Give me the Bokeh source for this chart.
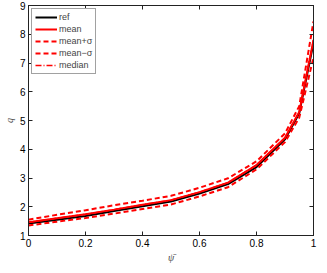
from bokeh.plotting import figure
from bokeh.models import Range1d, LinearAxis, FixedTicker, Legend, LegendItem
from bokeh.embed import file_html
from bokeh.resources import INLINE

psi = [0.0, 0.1, 0.2, 0.3, 0.4, 0.5, 0.6, 0.7, 0.8, 0.9, 0.95, 1.0]
q_ref = [1.42, 1.55, 1.68, 1.85, 2.02, 2.18, 2.46, 2.79, 3.38, 4.35, 5.25, 7.70]
q_mean = [1.46, 1.60, 1.74, 1.90, 2.07, 2.23, 2.51, 2.84, 3.45, 4.40, 5.30, 7.80]
q_plus = [1.55, 1.72, 1.88, 2.05, 2.21, 2.38, 2.66, 2.99, 3.58, 4.55, 5.50, 8.45]
q_minus = [1.35, 1.48, 1.61, 1.76, 1.92, 2.08, 2.36, 2.68, 3.30, 4.25, 5.10, 7.20]
q_median = [1.46, 1.60, 1.74, 1.90, 2.07, 2.23, 2.51, 2.84, 3.45, 4.40, 5.30, 7.80]
x_ticks = [0, 0.2, 0.4, 0.6, 0.8, 1]
y_ticks = [1, 2, 3, 4, 5, 6, 7, 8, 9]

p = figure(width=319, height=265, output_backend="svg", toolbar_location=None,
           x_range=Range1d(0, 1), y_range=Range1d(1, 9),
           min_border_left=16, min_border_right=6, min_border_top=5, min_border_bottom=26)
p.grid.visible = False
p.outline_line_color = "#222222"
p.background_fill_color = "white"
p.border_fill_color = "white"

font = "Liberation Sans"
for ax in [p.xaxis[0], p.yaxis[0]]:
    ax.major_tick_in = 4
    ax.major_tick_out = 0
    ax.minor_tick_in = 0
    ax.minor_tick_out = 0
    ax.axis_line_color = "#222222"
    ax.major_tick_line_color = "#222222"
    ax.major_label_text_font = font
    ax.major_label_text_font_size = "10px"
    ax.major_label_text_color = "black"
    ax.major_label_standoff = 3
    ax.axis_label_text_font = "Liberation Serif"
    ax.axis_label_text_font_style = "italic"
    ax.axis_label_text_font_size = "10px"
    ax.axis_label_standoff = 2
p.xaxis[0].ticker = FixedTicker(ticks=x_ticks)
p.yaxis[0].ticker = FixedTicker(ticks=y_ticks)
p.xaxis[0].major_label_overrides = {0: "0", 1: "1"}
p.xaxis[0].axis_label = "ψ̄"
p.yaxis[0].axis_label = "q"
p.yaxis[0].major_label_orientation = 0

for loc, ticks in [("right", y_ticks), ("above", x_ticks)]:
    ax = LinearAxis(ticker=FixedTicker(ticks=ticks))
    ax.major_tick_in = 4
    ax.major_tick_out = 0
    ax.minor_tick_in = 0
    ax.minor_tick_out = 0
    ax.major_label_overrides = {t: "" for t in ticks}
    ax.major_label_standoff = 0
    ax.axis_line_color = "#222222"
    ax.major_tick_line_color = "#222222"
    p.add_layout(ax, loc)

r_ref = p.line(psi, q_ref, line_color="black", line_width=2)
r_mean = p.line(psi, q_mean, line_color="red", line_width=2)
r_plus = p.line(psi, q_plus, line_color="red", line_width=2, line_dash="5 3")
r_minus = p.line(psi, q_minus, line_color="red", line_width=2, line_dash="5 3")
r_med = p.line(psi, q_median, line_color="red", line_width=1.5, line_dash="6 2 1 2")

legend = Legend(items=[
    LegendItem(label="ref", renderers=[r_ref]),
    LegendItem(label="mean", renderers=[r_mean]),
    LegendItem(label="mean+σ", renderers=[r_plus]),
    LegendItem(label="mean−σ", renderers=[r_minus]),
    LegendItem(label="median", renderers=[r_med]),
], location="top_left")
legend.label_text_font = font
legend.label_text_font_size = "9px"
legend.label_height = 10
legend.glyph_height = 10
legend.glyph_width = 22
legend.spacing = 2
legend.padding = 3
legend.margin = 3
legend.label_standoff = 2
legend.border_line_color = "#444444"
legend.border_line_width = 1
legend.background_fill_alpha = 1
p.add_layout(legend)

open("out.html", "w").write(file_html(p, INLINE))
